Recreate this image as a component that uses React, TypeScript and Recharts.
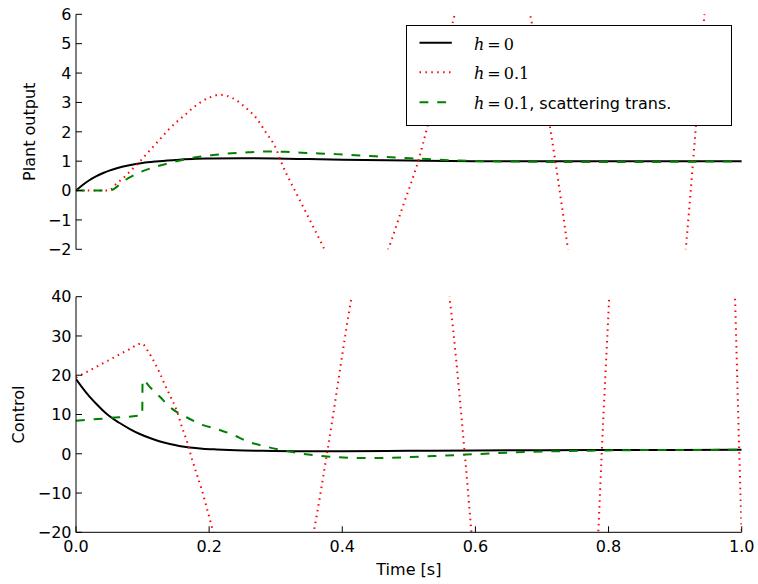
import React from 'react';
import { LineChart, Line, XAxis, YAxis, Legend } from 'recharts';

// ---------- axis ticks ----------
const timeTicks = [0, 0.2, 0.4, 0.6, 0.8, 1.0];
const outputTicks = [-2, -1, 0, 1, 2, 3, 4, 5, 6];
const controlTicks = [-20, -10, 0, 10, 20, 30, 40];

// ---------- legend ----------
const legendRhs = ['0', '0.1', '0.1'];
const legendSuffix = ['', '', ', scattering trans.'];
const seriesColors = ['#000000', '#ff0000', '#008000'];
const seriesDash = ['', '1.5 4.4', '8.85 8.85'];

// ---------- plant output, h = 0 ----------
const tOutH0 = [0, 0.01, 0.02, 0.03, 0.04, 0.05, 0.06, 0.08, 0.1, 0.12, 0.15, 0.18, 0.2, 0.25, 0.3, 0.35, 0.4, 0.5, 0.6, 0.7, 0.8, 0.9, 1.0];
const yOutH0 = [0, 0.19, 0.35, 0.48, 0.59, 0.68, 0.75, 0.86, 0.94, 0.99, 1.04, 1.08, 1.09, 1.1, 1.09, 1.07, 1.05, 1.02, 1.0, 1.0, 1.0, 1.0, 1.0];

// ---------- plant output, h = 0.1 ----------
const tOutH1 = [0, 0.05, 0.0586, 0.0736, 0.086, 0.096, 0.109, 0.121, 0.131, 0.141, 0.151, 0.164, 0.176, 0.189, 0.201, 0.216, 0.236, 0.256, 0.271, 0.286, 0.299, 0.309, 0.336, 0.356, 0.371, 0.39, 0.42, 0.45, 0.469, 0.49, 0.514, 0.54, 0.569, 0.6, 0.625, 0.655, 0.682, 0.72, 0.739, 0.78, 0.83, 0.88, 0.916, 0.927, 0.944, 0.97, 1.0];
const yOutH1 = [0, 0, 0.19, 0.48, 0.76, 0.99, 1.32, 1.62, 1.87, 2.12, 2.33, 2.58, 2.82, 3.03, 3.17, 3.26, 3.14, 2.8, 2.46, 1.95, 1.5, 0.93, -0.32, -1.22, -1.9, -2.9, -3.7, -3.0, -2.0, -0.6, 1.0, 3.3, 6.0, 8.5, 9.3, 8.3, 6.0, 1.0, -2.0, -9, -14, -10, -2, 1, 6, 14, 22];

// ---------- plant output, h = 0.1 with scattering transformation ----------
const tOutScat = [0, 0.05, 0.074, 0.096, 0.121, 0.146, 0.176, 0.206, 0.234, 0.259, 0.286, 0.314, 0.339, 0.39, 0.437, 0.502, 0.577, 0.687, 0.75, 0.837, 0.9, 1.0];
const yOutScat = [0, 0, 0.36, 0.62, 0.82, 0.97, 1.12, 1.21, 1.27, 1.3, 1.33, 1.32, 1.29, 1.24, 1.18, 1.1, 1.02, 0.98, 0.97, 0.97, 0.98, 0.99];

// ---------- control, h = 0 ----------
const tCtlH0 = [0, 0.01, 0.02, 0.03, 0.04, 0.05, 0.065, 0.081, 0.095, 0.111, 0.125, 0.141, 0.155, 0.171, 0.19, 0.211, 0.24, 0.28, 0.33, 0.4, 0.5, 0.6, 0.7, 0.8, 0.9, 1.0];
const uCtlH0 = [19, 16.7, 14.6, 12.8, 11.1, 9.6, 7.9, 6.3, 5.1, 4.0, 3.2, 2.5, 2.0, 1.6, 1.3, 1.1, 0.9, 0.75, 0.65, 0.65, 0.75, 0.85, 0.92, 0.96, 0.99, 1.0];

// ---------- control, h = 0.1 ----------
const tCtlH1 = [0, 0.02, 0.04, 0.06, 0.08, 0.0987, 0.1086, 0.1187, 0.126, 0.1337, 0.141, 0.151, 0.159, 0.166, 0.174, 0.181, 0.189, 0.196, 0.204, 0.22, 0.25, 0.29, 0.33, 0.357, 0.377, 0.414, 0.45, 0.49, 0.53, 0.561, 0.584, 0.594, 0.64, 0.69, 0.74, 0.7846, 0.7897, 0.801, 0.85, 0.9, 0.95, 0.99, 0.9964, 1.0];
const uCtlH1 = [19.4, 21.2, 23.0, 24.8, 26.6, 28.1, 26.0, 23.0, 20.5, 17.5, 14.9, 11.1, 6.9, 3.5, -1.2, -5.0, -9.2, -13.5, -18.6, -30, -45, -52, -40, -20, 0, 40, 72, 85, 70, 40, 0, -20, -100, -150, -120, -20, 0, 40, 220, 320, 230, 40, 0, -20];

// ---------- control, h = 0.1 with scattering transformation ----------
const tCtlScat = [0, 0.05, 0.0995, 0.1, 0.112, 0.126, 0.144, 0.166, 0.191, 0.212, 0.236, 0.26, 0.286, 0.31, 0.336, 0.387, 0.437, 0.462, 0.537, 0.607, 0.657, 0.757, 0.857, 1.0];
const uCtlScat = [8.4, 9.1, 9.9, 18.8, 16.8, 14.5, 11.5, 9.3, 7.3, 6.3, 4.8, 3.0, 1.8, 0.9, 0.1, -0.8, -1.1, -1.05, -0.6, -0.05, 0.35, 0.75, 0.95, 1.0];

// ---------- helpers ----------
const toRows = (ts: number[], vs: number[]) => ts.map((t, i) => ({ t, v: vs[i] }));

const SANS = '"DejaVu Sans", "Liberation Sans", sans-serif';
const SERIF = '"DejaVu Serif", "Liberation Serif", serif';
const TICK = 6;
const FS = 16;

const fmtNum = (v: number) => (v < 0 ? '\u2212' + String(Math.abs(v)) : String(v));
const fmtTime = (v: number) => Number(v).toFixed(1);

const BottomTick = (props: any) => {
  const { x, y, payload, showLabel } = props;
  return (
    <g>
      <line x1={x} x2={x} y1={y} y2={y - TICK} stroke="#000" strokeWidth={1} />
      {showLabel ? (
        <text x={x} y={y + 19.4} textAnchor="middle" fontFamily={SANS} fontSize={FS} fill="#000">
          {fmtTime(payload.value)}
        </text>
      ) : null}
    </g>
  );
};

const TopTick = (props: any) => {
  const { x, y } = props;
  return <line x1={x} x2={x} y1={y} y2={y + TICK} stroke="#000" strokeWidth={1} />;
};

const LeftTick = (props: any) => {
  const { x, y, payload } = props;
  return (
    <g>
      <line x1={x} x2={x + TICK} y1={y} y2={y} stroke="#000" strokeWidth={1} />
      <text x={x - 4.5} y={y} dy="0.36em" textAnchor="end" fontFamily={SANS} fontSize={FS} fill="#000">
        {fmtNum(payload.value)}
      </text>
    </g>
  );
};

const RightTick = (props: any) => {
  const { x, y } = props;
  return <line x1={x} x2={x - TICK} y1={y} y2={y} stroke="#000" strokeWidth={1} />;
};

const makeYLabel = (text: string, bx: number, fallbackCy: number) => (p: any) => {
  const vb = p && p.viewBox;
  const cy = vb && typeof vb.y === 'number' ? vb.y + vb.height / 2 : fallbackCy;
  return (
    <text x={bx} y={cy} transform={`rotate(-90 ${bx} ${cy})`} textAnchor="middle" fontFamily={SANS} fontSize={FS} fill="#000">
      {text}
    </text>
  );
};

const makeXLabel = (text: string, baseline: number, fallbackCx: number) => (p: any) => {
  const vb = p && p.viewBox;
  const cx = vb && typeof vb.x === 'number' ? vb.x + vb.width / 2 : fallbackCx;
  return (
    <text x={cx} y={baseline} textAnchor="middle" fontFamily={SANS} fontSize={FS} fill="#000">
      {text}
    </text>
  );
};

const LegendBox = () => {
  const rowY = [17.7, 47.3, 77.3];
  return (
    <svg width={326} height={101} style={{ display: 'block', overflow: 'visible' }}>
      <rect x={0.5} y={0.5} width={325} height={100} fill="#ffffff" stroke="#000" strokeWidth={1} />
      {legendRhs.map((rhs, i) => (
        <g key={i}>
          <line
            x1={13.5}
            x2={45.8}
            y1={rowY[i]}
            y2={rowY[i]}
            stroke={seriesColors[i]}
            strokeWidth={2}
            strokeDasharray={seriesDash[i] || undefined}
          />
          <text x={68} y={rowY[i] + 7} fontSize={FS} fill="#000">
            <tspan fontFamily={SERIF} fontStyle="italic">h</tspan>
            <tspan fontFamily={SERIF} dx={3}>=</tspan>
            <tspan fontFamily={SERIF} dx={3}>{rhs}</tspan>
            {legendSuffix[i] ? <tspan fontFamily={SANS}>{legendSuffix[i]}</tspan> : null}
          </text>
        </g>
      ))}
    </svg>
  );
};

const axisLine = { stroke: '#000', strokeWidth: 1 };

export default function App() {
  return (
    <div style={{ position: 'absolute', left: 0, top: 0, width: 758, height: 584, background: '#fff' }}>
      <div style={{ position: 'absolute', left: 0, top: 0 }}>
        <LineChart width={758} height={260} margin={{ top: 14.3, right: 16.3, bottom: 10.7, left: 0 }}>
          <XAxis xAxisId="b" type="number" dataKey="t" domain={[0, 1]} ticks={timeTicks} interval={0} allowDataOverflow
            height={0} tickSize={0} tickMargin={0} tickLine={false} axisLine={axisLine}
            tick={(p: any) => <BottomTick {...p} showLabel={false} />} />
          <XAxis xAxisId="t" orientation="top" type="number" dataKey="t" domain={[0, 1]} ticks={timeTicks} interval={0} allowDataOverflow
            height={0} tickSize={0} tickMargin={0} tickLine={false} axisLine={axisLine}
            tick={(p: any) => <TopTick {...p} />} />
          <YAxis yAxisId="l" type="number" domain={[-2, 6]} ticks={outputTicks} interval={0} allowDataOverflow
            width={76} tickSize={0} tickMargin={0} tickLine={false} axisLine={axisLine}
            tick={(p: any) => <LeftTick {...p} />}
            label={makeYLabel('Plant output', 35, 131.8)} />
          <YAxis yAxisId="r" orientation="right" type="number" domain={[-2, 6]} ticks={outputTicks} interval={0} allowDataOverflow
            width={0} tickSize={0} tickMargin={0} tickLine={false} axisLine={axisLine}
            tick={(p: any) => <RightTick {...p} />} />
          <Line xAxisId="b" yAxisId="l" data={toRows(tOutH0, yOutH0)} dataKey="v" name="h=0" type="monotone"
            stroke={seriesColors[0]} strokeWidth={2} dot={false} activeDot={false} isAnimationActive={false} />
          <Line xAxisId="b" yAxisId="l" data={toRows(tOutH1, yOutH1)} dataKey="v" name="h=0.1" type="monotone"
            stroke={seriesColors[1]} strokeWidth={2} strokeDasharray={seriesDash[1]} dot={false} activeDot={false} isAnimationActive={false} />
          <Line xAxisId="b" yAxisId="l" data={toRows(tOutScat, yOutScat)} dataKey="v" name="h=0.1, scattering trans." type="monotone"
            stroke={seriesColors[2]} strokeWidth={2} strokeDasharray={seriesDash[2]} dot={false} activeDot={false} isAnimationActive={false} />
          <Legend layout="vertical" align="center" verticalAlign="middle"
            wrapperStyle={{ left: 405.5, top: 24.5, width: 326, height: 101 }}
            content={() => <LegendBox />} />
        </LineChart>
      </div>
      <div style={{ position: 'absolute', left: 0, top: 270 }}>
        <LineChart width={758} height={314} margin={{ top: 26.7, right: 16.3, bottom: 0, left: 0 }}>
          <XAxis xAxisId="b" type="number" dataKey="t" domain={[0, 1]} ticks={timeTicks} interval={0} allowDataOverflow
            height={51.7} tickSize={0} tickMargin={0} tickLine={false} axisLine={axisLine}
            tick={(p: any) => <BottomTick {...p} showLabel={true} />}
            label={makeXLabel('Time [s]', 305, 408.8)} />
          <XAxis xAxisId="t" orientation="top" type="number" dataKey="t" domain={[0, 1]} ticks={timeTicks} interval={0} allowDataOverflow
            height={0} tickSize={0} tickMargin={0} tickLine={false} axisLine={axisLine}
            tick={(p: any) => <TopTick {...p} />} />
          <YAxis yAxisId="l" type="number" domain={[-20, 40]} ticks={controlTicks} interval={0} allowDataOverflow
            width={76} tickSize={0} tickMargin={0} tickLine={false} axisLine={axisLine}
            tick={(p: any) => <LeftTick {...p} />}
            label={makeYLabel('Control', 23.5, 144.5)} />
          <YAxis yAxisId="r" orientation="right" type="number" domain={[-20, 40]} ticks={controlTicks} interval={0} allowDataOverflow
            width={0} tickSize={0} tickMargin={0} tickLine={false} axisLine={axisLine}
            tick={(p: any) => <RightTick {...p} />} />
          <Line xAxisId="b" yAxisId="l" data={toRows(tCtlH0, uCtlH0)} dataKey="v" name="h=0" type="monotone"
            stroke={seriesColors[0]} strokeWidth={2} dot={false} activeDot={false} isAnimationActive={false} />
          <Line xAxisId="b" yAxisId="l" data={toRows(tCtlH1, uCtlH1)} dataKey="v" name="h=0.1" type="monotone"
            stroke={seriesColors[1]} strokeWidth={2} strokeDasharray={seriesDash[1]} dot={false} activeDot={false} isAnimationActive={false} />
          <Line xAxisId="b" yAxisId="l" data={toRows(tCtlScat, uCtlScat)} dataKey="v" name="h=0.1, scattering trans." type="monotone"
            stroke={seriesColors[2]} strokeWidth={2} strokeDasharray={seriesDash[2]} dot={false} activeDot={false} isAnimationActive={false} />
        </LineChart>
      </div>
    </div>
  );
}
